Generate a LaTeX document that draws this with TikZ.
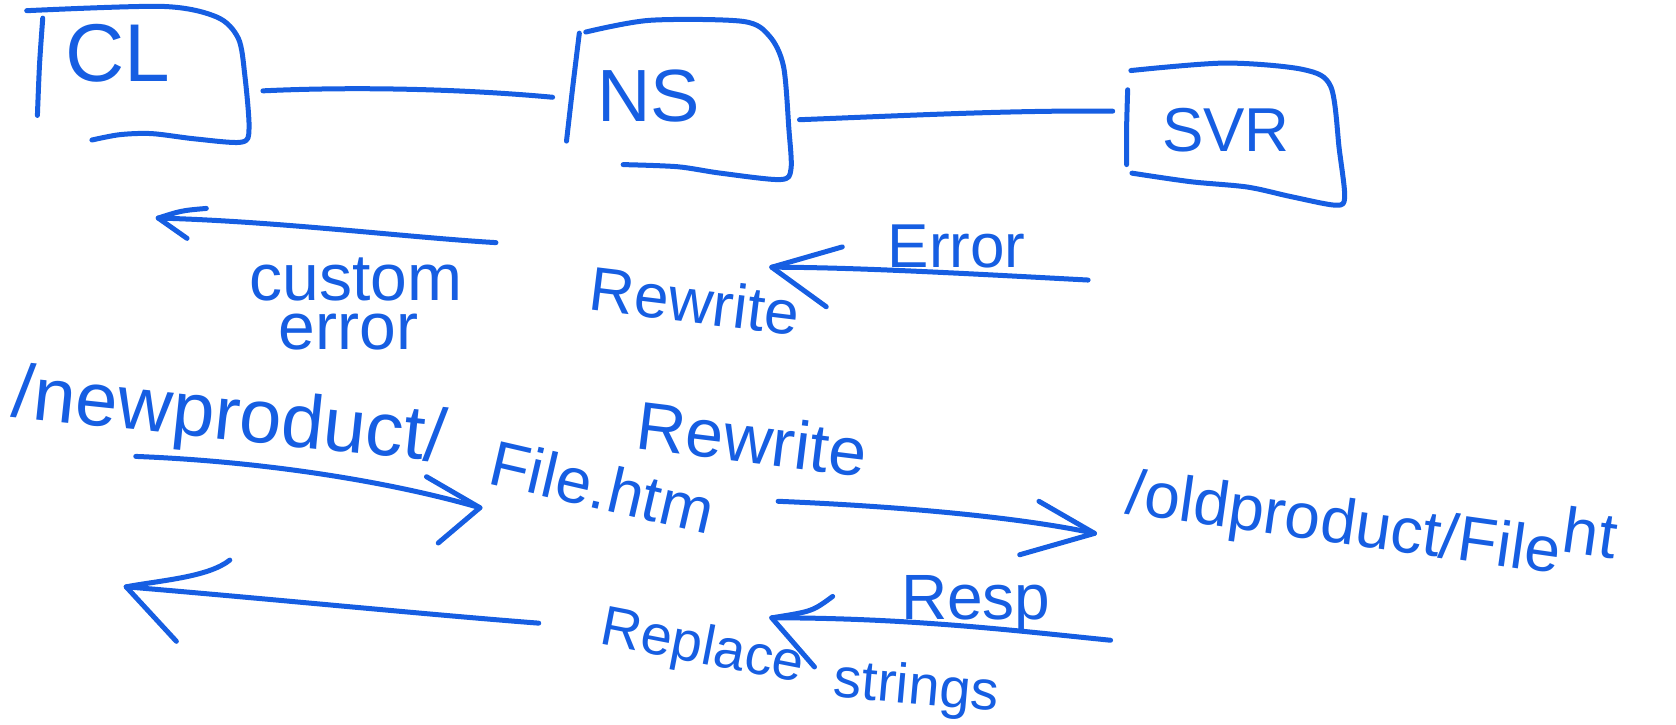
\documentclass[tikz,border=0pt]{standalone}
\usepackage{fontspec}
\setmainfont{Liberation Sans}
\definecolor{ink}{RGB}{22,94,226}
\newcommand\hwsize[1]{\fontsize{#1}{#1}\selectfont}
\tikzset{
  pen/.style={draw=ink, line width=5pt, line cap=round, line join=round},
  hw/.style={text=ink, inner sep=0pt, outer sep=0pt},
}
\begin{document}
\begin{tikzpicture}[x=1.069pt,y=-1.069pt]
\useasboundingbox (0,0) rectangle (1568,678);
% ---- boxes (hand drawn) ----
\draw[pen] plot[smooth,tension=0.5] coordinates {(40,17) (37,60) (35,108)};
\draw[pen] plot[smooth,tension=0.5] coordinates {(25,10) (152,6) (203,16) (223,36) (229,70) (233,120) (226,133) (183,130) (142,125) (112,126) (86,131)};
\draw[pen] plot[smooth,tension=0.5] coordinates {(542,31) (536,80) (530,132)};
\draw[pen] plot[smooth,tension=0.5] coordinates {(548,30) (608,19) (695,20) (720,34) (733,62) (738,120) (740,158) (730,168) (674,162) (634,156) (583,154)};
\draw[pen] plot[smooth,tension=0.5] coordinates {(1055,84) (1054,120) (1054,154)};
\draw[pen] plot[smooth,tension=0.5] coordinates {(1058,66) (1146,59) (1219,65) (1245,81) (1253,140) (1258,184) (1250,192) (1208,184) (1167,175) (1114,170) (1059,162)};
% ---- box labels ----
\node[hw,font=\hwsize{82}] (cl) at (110,50) {CL};
\node[hw,font=\hwsize{74}] (ns) at (607,90) {NS};
\node[hw,font=\hwsize{62}] (svr) at (1147,122) {SVR};
% ---- links between boxes ----
\coordinate (l1a) at (246,85);
\coordinate (l1b) at (517,91);
\coordinate (l2a) at (748,112);
\coordinate (l2b) at (1041,104);
\draw[pen] (l1a) .. controls (330,81) and (430,83) .. (l1b);
\draw[pen] (l2a) .. controls (850,108) and (950,103) .. (l2b);
% ---- labels ----
\node[hw,font=\hwsize{62}] (err) at (895,231) {Error};
\node[hw,font=\hwsize{66},anchor=base] (custom) at (333,281) {custom};
\node[hw,font=\hwsize{66},anchor=base] (cerror) at (326,327) {error};
\node[hw,font=\hwsize{62},anchor=base west,rotate=-7] (rw1) at (550,290) {Rewrite};
\node[hw,font=\hwsize{76},anchor=base west,rotate=-6] (newp) at (10,390) {/newproduct/};
\node[hw,font=\hwsize{64},anchor=base west,rotate=-13] (newf) at (455,452) {File.htm};
\node[hw,font=\hwsize{68},anchor=base west,rotate=-7] (rw2) at (594,420) {Rewrite};
\node[hw,font=\hwsize{64},anchor=base west,rotate=-8] (oldp) at (1052,480) {/oldproduct/File\raisebox{0.35em}{ht}};
\node[hw,font=\hwsize{64},anchor=base west] (resp) at (843,580) {Resp};
\node[hw,font=\hwsize{56},anchor=base west,rotate=-11] (repl) at (560,602) {Replace};
\node[hw,font=\hwsize{56},anchor=base west,rotate=-5] (strg) at (779,652) {strings};
% ---- arrows ----
% A1 custom error -> CL
\coordinate (a1s) at (464,227);
\coordinate (a1t) at (148,204);
\coordinate (a1u) at (193,195);
\coordinate (a1l) at (175,223);
\draw[pen] (a1s) .. controls (380,222) and (260,207) .. (a1t);
\draw[pen] (a1u) .. controls (170,197) .. (a1t) -- (a1l);
% A2 Error from SVR
\coordinate (a2s) at (1018,262);
\coordinate (a2t) at (722,250);
\coordinate (a2u) at (788,231);
\coordinate (a2l) at (773,287);
\draw[pen] (a2s) .. controls (905,256) and (800,250) .. (a2t);
\draw[pen] (a2u) -- (a2t) -- (a2l);
% A3 newproduct -> NS
\coordinate (a3s) at (127,427);
\coordinate (a3t) at (449,475);
\coordinate (a3u) at (399,446);
\coordinate (a3l) at (410,508);
\draw[pen] (a3s) .. controls (253,432) and (370,452) .. (a3t);
\draw[pen] (a3u) .. controls (430,464) .. (a3t) -- (a3l);
% A4 rewrite -> oldproduct
\coordinate (a4s) at (728,469);
\coordinate (a4t) at (1024,499);
\coordinate (a4u) at (972,469);
\coordinate (a4l) at (954,519);
\draw[pen] (a4s) .. controls (850,474) and (960,485) .. (a4t);
\draw[pen] (a4u) -- (a4t) -- (a4l);
% A5 Resp
\coordinate (a5s) at (1039,599);
\coordinate (a5t) at (722,578);
\coordinate (a5u) at (779,558);
\coordinate (a5l) at (762,624);
\draw[pen] (a5s) .. controls (950,590) and (850,578) .. (a5t);
\draw[pen] (a5u) .. controls (760,572) .. (a5t) -- (a5l);
% A6 back to CL
\coordinate (a6s) at (504,583);
\coordinate (a6t) at (118,549);
\coordinate (a6u) at (215,524);
\coordinate (a6l) at (165,600);
\draw[pen] (a6s) .. controls (400,575) and (250,560) .. (a6t);
\draw[pen] (a6u) .. controls (195,540) and (150,543) .. (a6t) -- (a6l);
\end{tikzpicture}
\end{document}
